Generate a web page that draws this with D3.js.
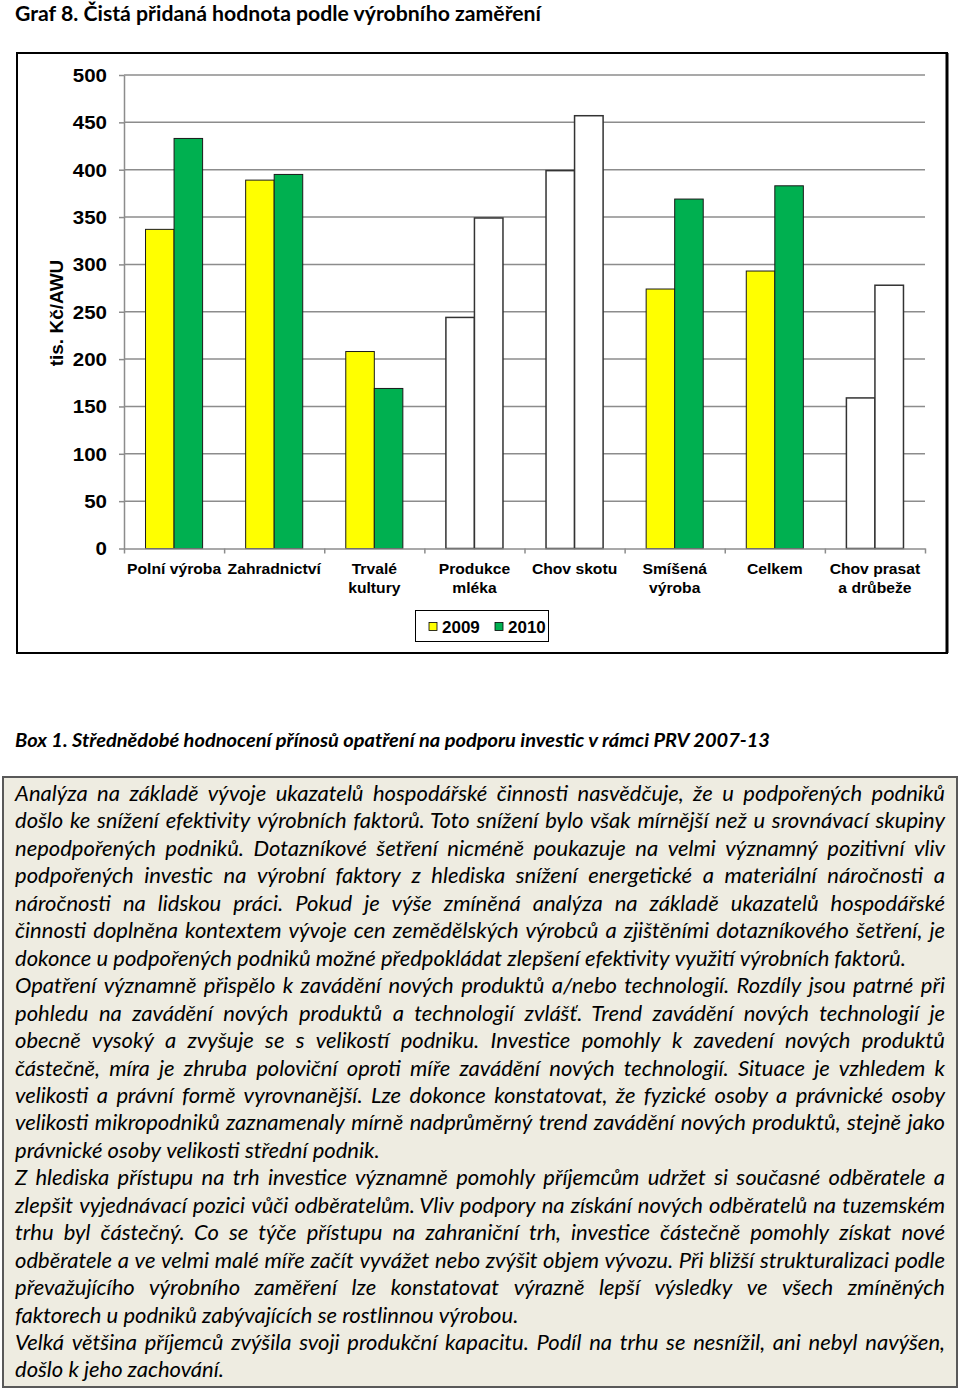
<!DOCTYPE html>
<html><head><meta charset="utf-8">
<script src="https://cdn.jsdelivr.net/npm/d3@7"></script>
<style>
html,body{margin:0;padding:0;background:#fff;}
svg{display:block;}
</style></head><body>
<svg id="c" width="960" height="1389"></svg>
<script>
// ---------- DATA ----------
const chartTitle = "Graf 8. Čistá přidaná hodnota podle výrobního zaměření";
const categories = ["Polní výroba","Zahradnictví","Trvalé kultury","Produkce mléka","Chov skotu","Smíšená výroba","Celkem","Chov prasat a drůbeže"];
const categoryLabelLines = [["Polní výroba"],["Zahradnictví"],["Trvalé","kultury"],["Produkce","mléka"],["Chov skotu"],["Smíšená","výroba"],["Celkem"],["Chov prasat","a drůbeže"]];
const seriesNames = ["2009","2010"];
const values2009 = [337, 389, 208, 244, 399, 274, 293, 159];
const values2010 = [433, 395, 169, 349, 457, 369, 383, 278];
const yTicks = [0,50,100,150,200,250,300,350,400,450,500];
const yAxisTitle = "tis. Kč/AWU";
const outlineOnlyCategories = ["Produkce mléka","Chov skotu","Chov prasat a drůbeže"];

const boxTitle = "Box 1. Střednědobé hodnocení přínosů opatření na podporu investic v rámci PRV 2007-13";
const paragraphs = [
 ["Analýza na základě vývoje ukazatelů hospodářské činnosti nasvědčuje, že u podpořených podniků",
  "došlo ke snížení efektivity výrobních faktorů. Toto snížení bylo však mírnější než u srovnávací skupiny",
  "nepodpořených podniků. Dotazníkové šetření nicméně poukazuje na velmi významný pozitivní vliv",
  "podpořených investic na výrobní faktory z hlediska snížení energetické a materiální náročnosti a",
  "náročnosti na lidskou práci. Pokud je výše zmíněná analýza na základě ukazatelů hospodářské",
  "činnosti doplněna kontextem vývoje cen zemědělských výrobců a zjištěními dotazníkového šetření, je",
  "dokonce u podpořených podniků možné předpokládat zlepšení efektivity využití výrobních faktorů."],
 ["Opatření významně přispělo k zavádění nových produktů a/nebo technologií. Rozdíly jsou patrné při",
  "pohledu na zavádění nových produktů a technologií zvlášť. Trend zavádění nových technologií je",
  "obecně vysoký a zvyšuje se s velikostí podniku. Investice pomohly k zavedení nových produktů",
  "částečně, míra je zhruba poloviční oproti míře zavádění nových technologií. Situace je vzhledem k",
  "velikosti a právní formě vyrovnanější. Lze dokonce konstatovat, že fyzické osoby a právnické osoby",
  "velikosti mikropodniků zaznamenaly mírně nadprůměrný trend zavádění nových produktů, stejně jako",
  "právnické osoby velikosti střední podnik."],
 ["Z hlediska přístupu na trh investice významně pomohly příjemcům udržet si současné odběratele a",
  "zlepšit vyjednávací pozici vůči odběratelům. Vliv podpory na získání nových odběratelů na tuzemském",
  "trhu byl částečný. Co se týče přístupu na zahraniční trh, investice částečně pomohly získat nové",
  "odběratele a ve velmi malé míře začít vyvážet nebo zvýšit objem vývozu. Při bližší strukturalizaci podle",
  "převažujícího výrobního zaměření lze konstatovat výrazně lepší výsledky ve všech zmíněných",
  "faktorech u podniků zabývajících se rostlinnou výrobou."],
 ["Velká většina příjemců zvýšila svoji produkční kapacitu. Podíl na trhu se nesnížil, ani nebyl navýšen,",
  "došlo k jeho zachování."]
];

// ---------- STYLE / LAYOUT ----------
const seriesColor = {"2009":"#ffff00","2010":"#00b050"};
const chartFont = "'Liberation Sans', Arial, sans-serif";
const textFont = "Lato, 'Open Sans', sans-serif";
const gridColor = "#8c8c8c";

const svg = d3.select("#c");

// Title
svg.append("text").attr("x",15).attr("y",21)
  .attr("textLength",526).attr("lengthAdjust","spacingAndGlyphs")
  .style("font-family",textFont).style("font-weight",700).style("font-size","21px")
  .style("fill","#000").text(chartTitle);

// Chart frame
svg.append("rect").attr("x",17).attr("y",53).attr("width",930).attr("height",600)
  .attr("fill","#fff").attr("stroke","#000").attr("stroke-width",2);
svg.append("line").attr("x1",947).attr("x2",947).attr("y1",53).attr("y2",653)
  .attr("stroke","#000").attr("stroke-width",3);

const plotL = 124, plotR = 925, plotT = 75, plotB = 548.5;
const y = d3.scaleLinear().domain([0,500]).range([plotB, plotT]);
const x = d3.scaleBand().domain(categories).range([plotL, plotR]).paddingInner(0.43).paddingOuter(0.215);
const xs = d3.scaleBand().domain(seriesNames).range([0, x.bandwidth()]);
const xb = d3.scaleLinear().domain([0, categories.length]).range([plotL, plotR]);

// Gridlines
svg.append("g").selectAll("line").data(yTicks.filter(d=>d>0)).join("line")
  .attr("x1",plotL).attr("x2",plotR).attr("y1",d=>y(d)).attr("y2",d=>y(d))
  .attr("stroke",gridColor).attr("stroke-width",1.5);

// Bars
const rows = categories.map((c,i)=>({cat:c, vals:[{s:"2009",v:values2009[i]},{s:"2010",v:values2010[i]}]}));
const grp = svg.append("g").selectAll("g").data(rows).join("g")
  .attr("transform",d=>`translate(${x(d.cat)},0)`);
grp.selectAll("rect").data(d=>d.vals.map(o=>({...o,cat:d.cat}))).join("rect")
  .attr("x",d=>xs(d.s)).attr("width",xs.bandwidth())
  .attr("y",d=>y(d.v)).attr("height",d=>y(0)-y(d.v))
  .attr("fill",d=>outlineOnlyCategories.includes(d.cat)?"#fff":seriesColor[d.s])
  .attr("stroke",d=>outlineOnlyCategories.includes(d.cat)?"#333":"#1a1a1a")
  .attr("stroke-width",d=>outlineOnlyCategories.includes(d.cat)?1.5:1);

// Y axis
const yAx = svg.append("g").attr("transform",`translate(${plotL},0)`)
  .call(d3.axisLeft(y).tickValues(yTicks).tickSize(5).tickSizeOuter(0).tickFormat(d3.format("d")));
yAx.select(".domain").attr("stroke",gridColor).attr("stroke-width",1.5);
yAx.selectAll(".tick line").attr("stroke",gridColor).attr("stroke-width",1.5);
const ySx = 1.14;
yAx.selectAll(".tick text")
  .attr("x",-17/ySx).attr("dy","0.36em")
  .attr("transform",`scale(${ySx},1)`)
  .style("font-family",chartFont).style("font-weight",700).style("font-size","18px").style("fill","#000");

// X axis
const xAx = svg.append("g").attr("transform",`translate(0,${plotB})`)
  .call(d3.axisBottom(xb).tickValues(d3.range(categories.length+1)).tickSize(5).tickSizeOuter(0).tickFormat(""));
xAx.select(".domain").attr("stroke",gridColor).attr("stroke-width",1.5);
xAx.selectAll(".tick line").attr("stroke",gridColor).attr("stroke-width",1.5);

// X labels
const xlab = svg.append("g").selectAll("text").data(categories).join("text")
  .attr("transform",(d)=>`translate(${x(d)+x.bandwidth()/2},574) scale(1.12,1)`)
  .attr("text-anchor","middle")
  .style("font-family",chartFont).style("font-weight",700).style("font-size","14px").style("fill","#000");
xlab.selectAll("tspan").data((d,i)=>categoryLabelLines[i]).join("tspan")
  .attr("x",0).attr("y",(d,j)=>j*19).text(d=>d);

// Y axis title
svg.append("text").attr("transform","translate(63,313) rotate(-90)")
  .attr("text-anchor","middle")
  .style("font-family",chartFont).style("font-weight",700).style("font-size","19px").style("fill","#000")
  .text(yAxisTitle);

// Legend
const lg = svg.append("g");
lg.append("rect").attr("x",415.5).attr("y",610.5).attr("width",133).attr("height",31)
  .attr("fill","#fff").attr("stroke","#000").attr("stroke-width",1);
const legX = d3.scalePoint().domain(seriesNames).range([429, 495]);
const li = lg.selectAll("g.it").data(seriesNames).join("g").attr("class","it")
  .attr("transform",d=>`translate(${legX(d)},0)`);
li.append("rect").attr("x",0).attr("y",622.5).attr("width",8).attr("height",8)
  .attr("fill",d=>seriesColor[d]).attr("stroke","#000").attr("stroke-width",0.8);
li.append("text").attr("x",13).attr("y",633)
  .style("font-family",chartFont).style("font-weight",700).style("font-size","17px").style("fill","#000")
  .text(d=>d);

// Box title
svg.append("text").attr("x",15).attr("y",747)
  .attr("textLength",755).attr("lengthAdjust","spacingAndGlyphs")
  .style("font-family",textFont).style("font-weight",700).style("font-style","italic").style("font-size","19px")
  .style("fill","#000").text(boxTitle);

// Text box
svg.append("rect").attr("x",3).attr("y",777).attr("width",954).attr("height",610)
  .attr("fill","#eeece1").attr("stroke","#595959").attr("stroke-width",2);

const body = svg.append("g").style("font-family",textFont).style("font-style","italic")
  .style("font-size","22px").style("fill","#000");
const tmp = body.append("text").text("x x");
const w1 = tmp.node().getComputedTextLength();
tmp.text("xx");
const spaceW = w1 - tmp.node().getComputedTextLength();
tmp.remove();

const L = 15, W = 930, y0 = 801, lh = 27.45;
let lineIdx = 0;
paragraphs.forEach(par=>{
  par.forEach((line,k)=>{
    const justify = k < par.length-1;
    const words = line.split(" ");
    const yb = y0 + lineIdx*lh;
    const t = body.append("text");
    const spans = t.selectAll("tspan").data(words).join("tspan").text(d=>d);
    const ws = spans.nodes().map(n=>n.getComputedTextLength());
    const tot = d3.sum(ws);
    let gap = (justify && words.length>1) ? (W - tot)/(words.length-1) : spaceW;
    const minGap = spaceW*0.85;
    if (gap < minGap) gap = minGap;
    const natural = tot + gap*(words.length-1);
    const sx = natural > W ? W/natural : 1;
    let pos = 0;
    const xsPos = ws.map(w=>{const p=pos; pos += w+gap; return p;});
    spans.attr("x",(d,j)=>xsPos[j]).attr("y",0);
    t.attr("transform",`translate(${L},${yb}) scale(${sx},1)`);
    lineIdx++;
  });
});
</script>
</body></html>
